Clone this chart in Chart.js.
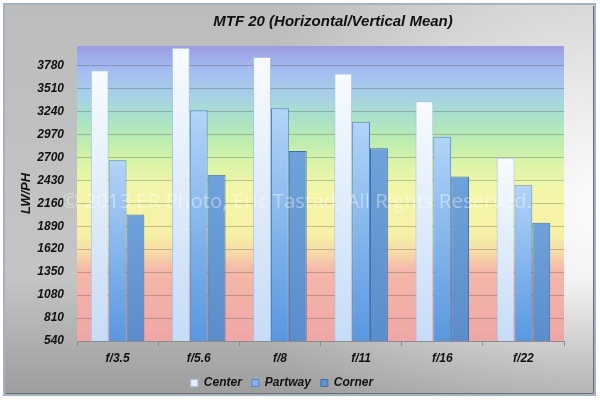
<!DOCTYPE html>
<html>
<head>
<meta charset="utf-8">
<script src="https://cdn.jsdelivr.net/npm/chart.js@4.4.1/dist/chart.umd.min.js"></script>
<style>
html, body { margin: 0; padding: 0; background: #fff; }
canvas { display: block; }
</style>
</head>
<body>
<canvas id="mtf" width="600" height="403"></canvas>
<script>
// values (LW/PH)
const apertures = ['f/3.5', 'f/5.6', 'f/8', 'f/11', 'f/16', 'f/22'];
const center = [3725, 3988, 3882, 3686, 3361, 2695];
const partway = [2665, 3255, 3279, 3119, 2943, 2371];
const corner = [2027, 2497, 2774, 2806, 2475, 1930];
const yTicks = [540, 810, 1080, 1350, 1620, 1890, 2160, 2430, 2700, 2970, 3240, 3510, 3780];
const yMin = 540;
const yMax = 4010;

const family = '"Liberation Sans", Arial, sans-serif';
function fnt(size) {
  return { family: family, size: size, style: 'italic', weight: 'bold' };
}

// per bar gradient, light at the top of the bar, darker at the axis
function barFill(top, bottom) {
  return (c) => {
    const chart = c.chart, area = chart.chartArea;
    if (!area || c.type !== 'data' || !chart.scales.y) return bottom;
    const y = chart.scales.y.getPixelForValue(c.raw);
    const g = chart.ctx.createLinearGradient(0, y, 0, area.bottom);
    g.addColorStop(0, top);
    g.addColorStop(1, bottom);
    return g;
  };
}
const legendFill = ['#e4eefc', '#7fb2ec', '#6294d0'];
const legendEdge = ['#a9c3e6', '#4f86c8', '#3f70ac'];

const backdrop = {
  id: 'backdrop',
  beforeDraw(chart) {
    const ctx = chart.ctx, a = chart.chartArea;
    ctx.save();
    ctx.fillStyle = '#fff';
    ctx.fillRect(0, 0, chart.width, chart.height);
    // grey frame
    ctx.fillStyle = '#c4c4c4';
    ctx.fillRect(4, 4, 591, 391);
    let g = ctx.createRadialGradient(600, 200, 0, 600, 200, 360);
    g.addColorStop(0, 'rgba(255,255,255,1)');
    g.addColorStop(0.3, 'rgba(255,255,255,0.75)');
    g.addColorStop(1, 'rgba(255,255,255,0)');
    ctx.fillStyle = g;
    ctx.fillRect(4, 4, 591, 391);
    g = ctx.createLinearGradient(0, 4, 0, 395);
    g.addColorStop(0, 'rgba(0,0,0,0.04)');
    g.addColorStop(0.7, 'rgba(0,0,0,0)');
    g.addColorStop(1, 'rgba(0,0,0,0.2)');
    ctx.fillStyle = g;
    ctx.fillRect(4, 4, 591, 391);
    ctx.strokeStyle = '#a3b3c6';
    ctx.lineWidth = 2;
    ctx.strokeRect(4, 4, 591, 391);
    ctx.strokeStyle = '#6d6d6d';
    ctx.lineWidth = 1;
    ctx.beginPath();
    ctx.moveTo(6, 393.5); ctx.lineTo(593.5, 393.5); ctx.lineTo(593.5, 6);
    ctx.stroke();
    // plot area rainbow
    g = ctx.createLinearGradient(0, a.top, 0, a.bottom);
    g.addColorStop(0, '#9c9ce0');
    g.addColorStop(0.081, '#a4bcf0');
    g.addColorStop(0.166, '#a8d0e8');
    g.addColorStop(0.234, '#a8e0cc');
    g.addColorStop(0.319, '#bcecb0');
    g.addColorStop(0.403, '#dcf4a8');
    g.addColorStop(0.488, '#f4f6aa');
    g.addColorStop(0.641, '#f6f0a6');
    g.addColorStop(0.708, '#f6d6a8');
    g.addColorStop(0.759, '#f4b8a8');
    g.addColorStop(1, '#eea6a6');
    ctx.fillStyle = g;
    ctx.fillRect(a.left, a.top, a.right - a.left, a.bottom - a.top);
    ctx.restore();
  },
  afterLayout(chart) {
    // title sits a bit right of the canvas centre
    const t = chart.titleBlock;
    if (t) { t.left = 102; t.right = 564; }
  },
  afterDatasetsDraw(chart) {
    const ctx = chart.ctx, a = chart.chartArea;
    const text = '\u00a9 2013 ER Photo, Eric Tastad, All Rights Reserved.';
    ctx.save();
    ctx.font = '20px "Open Sans", sans-serif';
    const size = 20 * 470 / ctx.measureText(text).width;
    ctx.font = size.toFixed(2) + 'px "Open Sans", sans-serif';
    ctx.fillStyle = 'rgba(255,255,255,0.4)';
    ctx.textAlign = 'center';
    ctx.textBaseline = 'middle';
    ctx.fillText(text, a.left + 220, a.top + 156);
    ctx.restore();
  }
};

new Chart(document.getElementById('mtf'), {
  type: 'bar',
  data: {
    labels: apertures,
    datasets: [
      { label: 'Center', data: center, backgroundColor: barFill('#f8fbff', '#c6dcf7'), borderColor: '#aac4e6' },
      { label: 'Partway', data: partway, backgroundColor: barFill('#b2d4f8', '#5898e0'), borderColor: '#4f86c8' },
      { label: 'Corner', data: corner, backgroundColor: barFill('#6fa2da', '#5b8dca'), borderColor: '#3f70ac' }
    ]
  },
  options: {
    responsive: false,
    animation: false,
    devicePixelRatio: 1,
    layout: { padding: { left: 0, right: 36, top: 0, bottom: 4 } },
    datasets: { bar: { categoryPercentage: 0.66, barPercentage: 1, borderWidth: 1 } },
    plugins: {
      title: {
        display: true,
        text: 'MTF 20 (Horizontal/Vertical Mean)',
        color: '#111',
        font: fnt(15),
        padding: { top: 12.8, bottom: 15.2 }
      },
      legend: {
        position: 'bottom',
        labels: {
          color: '#111',
          font: fnt(12),
          boxWidth: 7,
          boxHeight: 7,
          padding: 10,
          generateLabels(chart) {
            const items = Chart.defaults.plugins.legend.labels.generateLabels(chart);
            items.forEach((it, i) => {
              it.fillStyle = legendFill[i];
              it.strokeStyle = legendEdge[i];
              it.lineWidth = 1;
            });
            return items;
          }
        }
      },
      tooltip: { enabled: false }
    },
    scales: {
      x: {
        afterFit(s) { s.height = 26; },
        border: { display: true, color: '#8c8c8c' },
        grid: { drawOnChartArea: false, drawTicks: true, tickLength: 5, offset: true, color: '#8c8c8c' },
        ticks: { color: '#111', font: fnt(12), padding: 5 }
      },
      y: {
        min: yMin,
        max: yMax,
        afterFit(s) { s.width = 77; },
        afterBuildTicks(s) { s.ticks = yTicks.map(v => ({ value: v })); },
        border: { display: false },
        grid: { color: 'rgba(60,60,60,0.28)', drawTicks: false },
        ticks: { color: '#111', font: fnt(12), padding: 13, callback: (v) => String(v) },
        title: { display: true, text: 'LW/PH', color: '#111', font: fnt(13), padding: { top: 19, bottom: 0 } }
      }
    }
  },
  plugins: [backdrop]
});
</script>
</body>
</html>
